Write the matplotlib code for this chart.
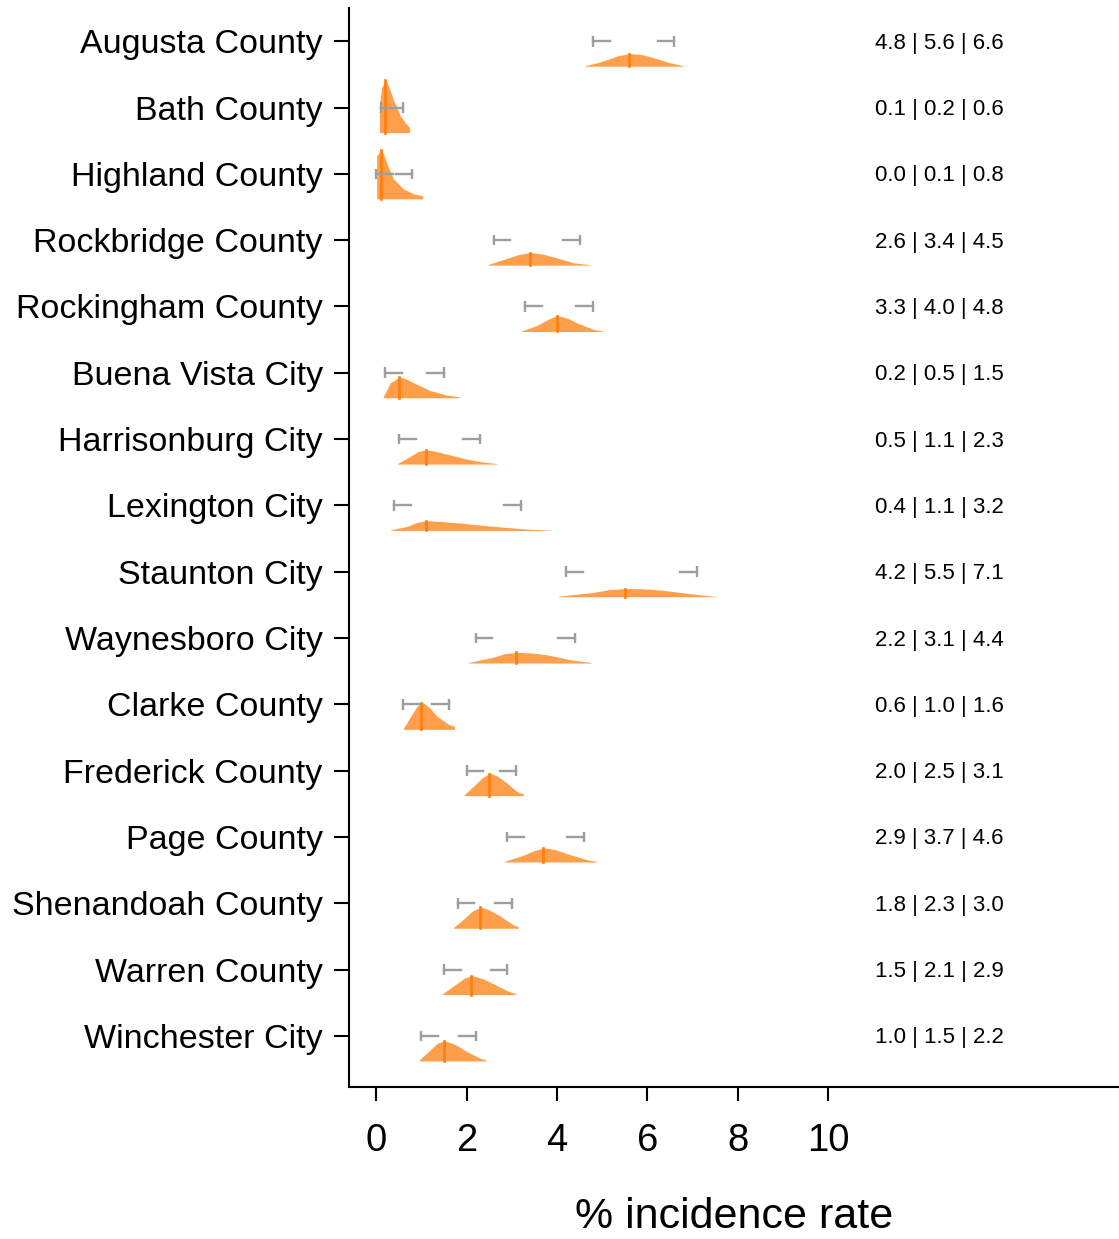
import numpy as np
import matplotlib.pyplot as plt

plt.rcParams.update({'font.family': ['Liberation Sans', 'DejaVu Sans']})

counties = ['Augusta County', 'Bath County', 'Highland County', 'Rockbridge County',
            'Rockingham County', 'Buena Vista City', 'Harrisonburg City', 'Lexington City',
            'Staunton City', 'Waynesboro City', 'Clarke County', 'Frederick County',
            'Page County', 'Shenandoah County', 'Warren County', 'Winchester City']
lower = [4.8, 0.1, 0.0, 2.6, 3.3, 0.2, 0.5, 0.4, 4.2, 2.2, 0.6, 2.0, 2.9, 1.8, 1.5, 1.0]
median = [5.6, 0.2, 0.1, 3.4, 4.0, 0.5, 1.1, 1.1, 5.5, 3.1, 1.0, 2.5, 3.7, 2.3, 2.1, 1.5]
upper = [6.6, 0.6, 0.8, 4.5, 4.8, 1.5, 2.3, 3.2, 7.1, 4.4, 1.6, 3.1, 4.6, 3.0, 2.9, 2.2]

# density outlines (x in %, density height)
dens_x = [
    [4.62, 4.9, 5.1, 5.35, 5.62, 5.9, 6.14, 6.45, 6.79],
    [0.07, 0.12, 0.21, 0.30, 0.38, 0.53, 0.64, 0.74],
    [0.01, 0.11, 0.17, 0.24, 0.38, 0.60, 0.83, 1.03],
    [2.47, 2.89, 3.15, 3.41, 3.7, 3.92, 4.37, 4.72],
    [3.22, 3.55, 3.8, 4.01, 4.25, 4.44, 4.81, 5.01],
    [0.15, 0.31, 0.51, 0.65, 0.83, 1.19, 1.56, 1.84],
    [0.47, 0.75, 0.93, 1.11, 1.3, 1.56, 2.0, 2.37, 2.67],
    [0.32, 0.68, 0.9, 1.11, 1.4, 1.86, 2.6, 3.33, 3.87],
    [4.03, 4.81, 5.15, 5.52, 5.9, 6.28, 7.02, 7.52],
    [2.04, 2.6, 2.85, 3.11, 3.45, 3.78, 4.37, 4.75],
    [0.60, 0.79, 0.9, 1.02, 1.17, 1.34, 1.60, 1.73],
    [1.95, 2.15, 2.35, 2.52, 2.7, 2.89, 3.11, 3.26],
    [2.83, 3.26, 3.5, 3.72, 3.95, 4.22, 4.66, 4.88],
    [1.71, 1.93, 2.12, 2.32, 2.52, 2.74, 3.04, 3.15],
    [1.47, 1.75, 1.95, 2.12, 2.35, 2.6, 2.89, 3.08],
    [0.95, 1.19, 1.35, 1.51, 1.75, 2.01, 2.3, 2.43],
]
dens_d = [
    [0.04, 0.26, 0.48, 0.78, 0.94, 0.85, 0.63, 0.30, 0.04],
    [2.07, 3.33, 3.93, 3.19, 2.44, 1.26, 0.74, 0.37],
    [3.19, 3.63, 3.26, 2.59, 1.48, 0.74, 0.37, 0.22],
    [0.04, 0.50, 0.78, 0.94, 0.81, 0.61, 0.17, 0.04],
    [0.04, 0.44, 0.89, 1.19, 0.96, 0.64, 0.15, 0.04],
    [0.04, 1.11, 1.53, 1.41, 1.11, 0.54, 0.20, 0.07],
    [0.04, 0.57, 0.93, 1.06, 0.96, 0.74, 0.37, 0.15, 0.04],
    [0.04, 0.30, 0.59, 0.72, 0.67, 0.54, 0.30, 0.10, 0.02],
    [0.04, 0.32, 0.52, 0.61, 0.59, 0.50, 0.20, 0.02],
    [0.04, 0.44, 0.70, 0.79, 0.74, 0.61, 0.20, 0.04],
    [0.07, 1.11, 1.70, 2.02, 1.63, 0.99, 0.37, 0.22],
    [0.07, 0.69, 1.33, 1.68, 1.41, 0.94, 0.32, 0.11],
    [0.04, 0.50, 0.85, 1.04, 0.93, 0.61, 0.17, 0.04],
    [0.07, 0.67, 1.26, 1.58, 1.33, 0.91, 0.24, 0.11],
    [0.07, 0.74, 1.22, 1.41, 1.19, 0.79, 0.30, 0.07],
    [0.07, 0.81, 1.30, 1.50, 1.22, 0.69, 0.20, 0.07],
]

orange = '#FF7F0E'
grey = '#9E9E9E'
base_off = 0.377      # density baseline below the row
hscale = 0.2036       # density -> row units
stub = 0.37           # length of the interval whiskers
cap = 0.08

fig = plt.figure(figsize=(11.19, 12.39), dpi=100)
ax = fig.add_axes([0.312, 0.1227, 0.688, 0.8708])

for i, name in enumerate(counties):
    xs = np.array(dens_x[i])
    ds = np.array(dens_d[i]) * hscale
    base = i + base_off
    ax.fill_between(xs, base, base - ds, color=orange, alpha=0.75, lw=0)
    hm = np.interp(median[i], xs, ds)
    ax.plot([median[i], median[i]], [base, base - hm], color=orange, lw=1.9)
    ax.plot([lower[i], lower[i] + stub], [i, i], color=grey, lw=1.7)
    ax.plot([upper[i] - stub, upper[i]], [i, i], color=grey, lw=1.7)
    ax.vlines([lower[i], upper[i]], i - cap, i + cap, color=grey, lw=1.7)
    ax.text(11.04, i + 0.03, '%.1f | %.1f | %.1f' % (lower[i], median[i], upper[i]),
            va='center', ha='left', fontsize=16)

ax.set_xlim(-0.6, 16.44)
ax.set_ylim(len(counties) - 1 + 0.77, -0.5)
ax.set_yticks(range(len(counties)))
ax.set_yticklabels(counties, fontsize=24.5)
ax.set_xticks([0, 2, 4, 6, 8, 10])
ax.tick_params(axis='x', labelsize=27.5, length=10, width=1.5, pad=16)
ax.tick_params(axis='y', length=11, width=1.5, pad=8)
ax.set_xlabel('% incidence rate', fontsize=31, labelpad=27)
for s in ['top', 'right']:
    ax.spines[s].set_visible(False)
for s in ['left', 'bottom']:
    ax.spines[s].set_linewidth(1.5)

fig.savefig('out.png', dpi=100)
